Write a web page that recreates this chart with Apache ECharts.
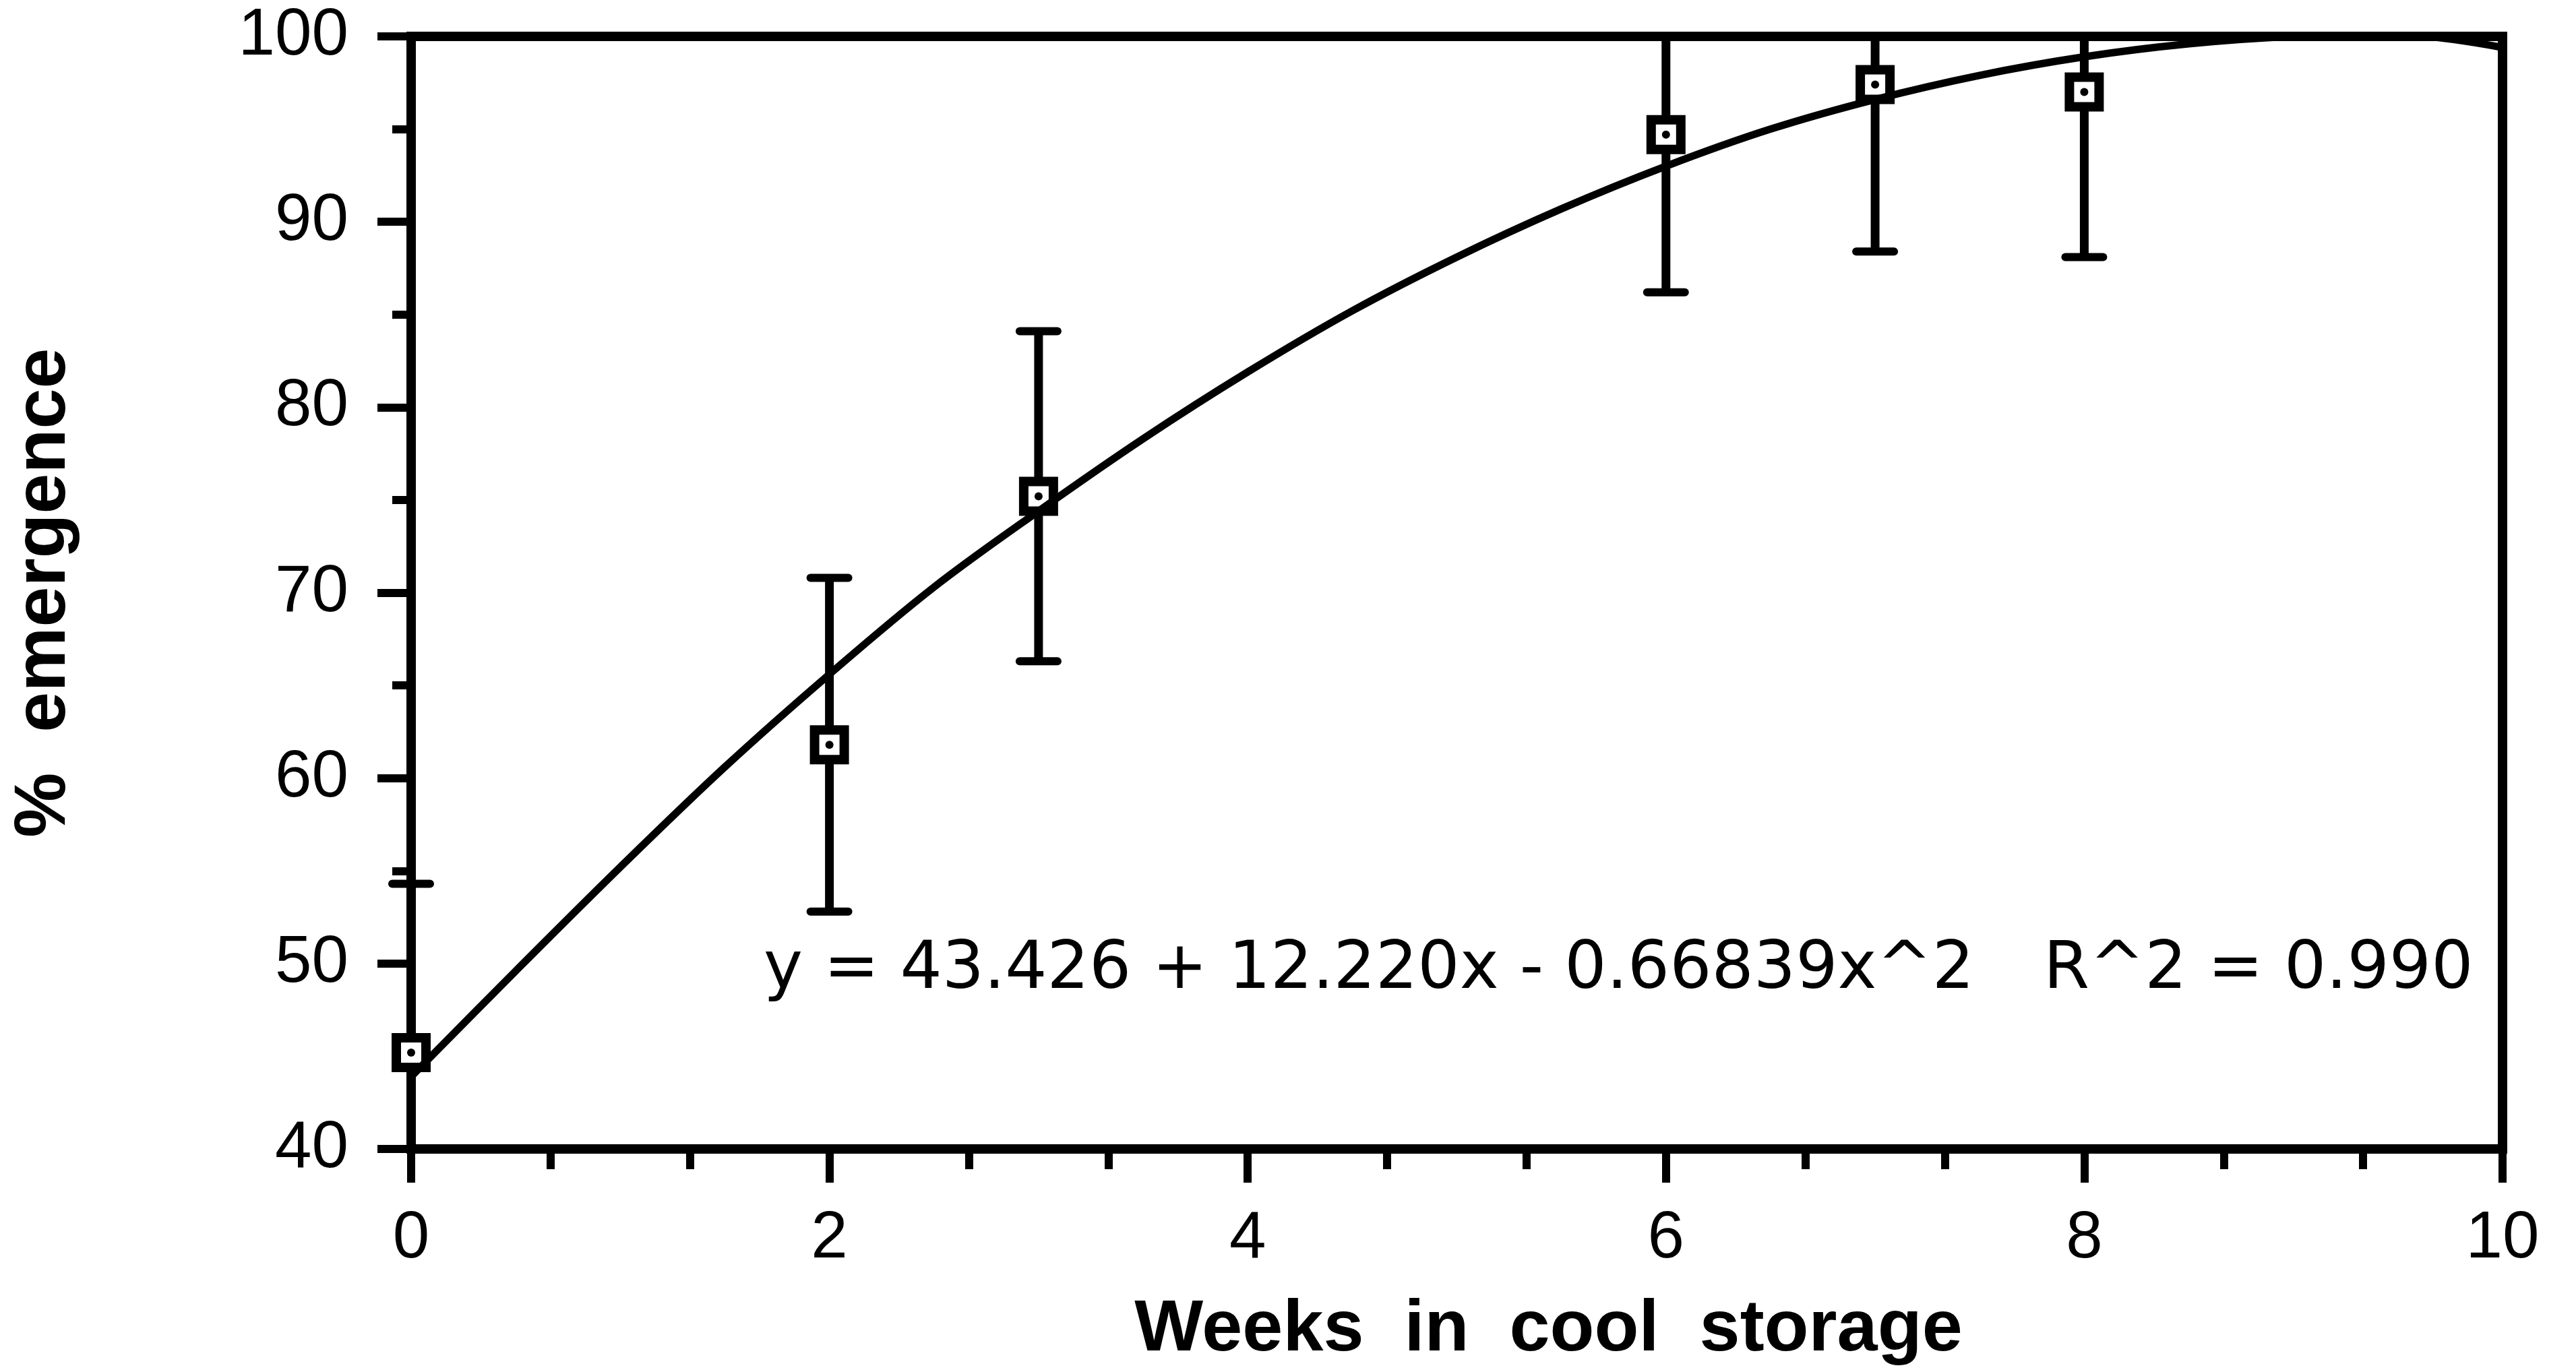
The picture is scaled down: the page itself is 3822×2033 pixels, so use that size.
<!DOCTYPE html>
<html>
<head>
<meta charset="utf-8">
<script src="https://cdn.jsdelivr.net/npm/echarts@6/dist/echarts.min.js"></script>
<style>
  html, body { margin: 0; padding: 0; background: #ffffff; }
  #chart { width: 3822px; height: 2033px; }
</style>
</head>
<body>
<div id="chart"></div>
<script>
// Observed mean emergence (%) after each storage period, with error half-widths
const weeks = [0, 2, 3, 6, 7, 8];
const emergence = [45.2, 61.8, 75.2, 94.7, 97.4, 97.0];
const errorHalf = [9.1, 9.0, 8.9, 8.5, 9.0, 8.9];

// Fitted quadratic curve, sampled along the x range
const fitWeeks = [0, 0.5, 1, 1.5, 2, 2.5, 3, 3.5, 4, 4.5, 5, 5.5, 6, 6.5, 7, 7.5, 8, 8.5, 9, 9.5, 10];
const fitEmergence = [43.9, 49.6, 55.2, 60.6, 65.6, 70.3, 74.4, 78.3, 81.9, 85.2, 88.1, 90.7, 93.0, 95.0, 96.6, 97.9, 98.9, 99.6, 100.0, 100.1, 99.4];

// Axis tick labels
const xTickLabels = ['0', '2', '4', '6', '8', '10'];
const yTickLabels = ['40', '50', '60', '70', '80', '90', '100'];

const equationText = 'y = 43.426 + 12.220x - 0.66839x^2';
const rSquaredText = 'R^2 = 0.990';

const X_MIN = 0, X_MAX = 10, Y_MIN = 40, Y_MAX = 100;
const INK = '#000000';
const LABEL_FONT = '"Liberation Sans", Arial, Helvetica, sans-serif';

const chart = echarts.init(document.getElementById('chart'), null, { renderer: 'canvas' });

const option = {
  backgroundColor: '#ffffff',
  animation: false,
  grid: {
    left: 610, right: 109, top: 54, bottom: 327,
    show: true, borderColor: INK, borderWidth: 14, backgroundColor: 'transparent'
  },
  xAxis: {
    type: 'value', min: X_MIN, max: X_MAX, interval: 2,
    name: 'Weeks  in  cool  storage',
    nameLocation: 'middle', nameGap: 215,
    nameTextStyle: { fontFamily: LABEL_FONT, fontWeight: 'bold', fontSize: 108, color: INK, padding: [0, 0, 0, 272] },
    axisLine: { show: true, lineStyle: { color: INK, width: 14 } },
    axisTick: { show: true, length: 50, lineStyle: { color: INK, width: 12 } },
    minorTick: { show: true, splitNumber: 3, length: 30, lineStyle: { color: INK, width: 12 } },
    splitLine: { show: false },
    axisLabel: {
      fontFamily: LABEL_FONT, fontSize: 98, color: INK, margin: 85,
      formatter: v => xTickLabels[Math.round(v / 2)]
    }
  },
  yAxis: {
    type: 'value', min: Y_MIN, max: Y_MAX, interval: 10,
    name: '%  emergence',
    nameLocation: 'middle', nameGap: 490, nameRotate: 90,
    nameTextStyle: { fontFamily: LABEL_FONT, fontWeight: 'bold', fontSize: 108, color: INK },
    axisLine: { show: true, lineStyle: { color: INK, width: 14 } },
    axisTick: { show: true, length: 50, lineStyle: { color: INK, width: 12 } },
    minorTick: { show: true, splitNumber: 2, length: 28, lineStyle: { color: INK, width: 12 } },
    splitLine: { show: false },
    axisLabel: {
      fontFamily: LABEL_FONT, fontSize: 98, color: INK, margin: 93, align: 'right',
      formatter: v => yTickLabels[Math.round((v - Y_MIN) / 10)]
    }
  },
  series: [
    {
      // vertical error bars with end caps, clipped to the plotting range
      type: 'custom',
      z: 2,
      data: weeks.map((w, i) => [w, emergence[i] - errorHalf[i], emergence[i] + errorHalf[i]]),
      renderItem: function (params, api) {
        const x = api.value(0), lo = api.value(1), hi = api.value(2);
        const pLo = api.coord([x, Math.max(lo, Y_MIN)]);
        const pHi = api.coord([x, Math.min(hi, Y_MAX)]);
        const half = 28;
        const children = [{
          type: 'line',
          shape: { x1: pLo[0], y1: pLo[1], x2: pHi[0], y2: pHi[1] },
          style: { stroke: INK, lineWidth: 13 }
        }];
        if (lo >= Y_MIN) {
          children.push({ type: 'line', shape: { x1: pLo[0] - half, y1: pLo[1], x2: pLo[0] + half, y2: pLo[1] },
            style: { stroke: INK, lineWidth: 12, lineCap: 'round' } });
        }
        if (hi <= Y_MAX) {
          children.push({ type: 'line', shape: { x1: pHi[0] - half, y1: pHi[1], x2: pHi[0] + half, y2: pHi[1] },
            style: { stroke: INK, lineWidth: 12, lineCap: 'round' } });
        }
        return { type: 'group', children: children };
      }
    },
    {
      // open square markers
      type: 'scatter',
      z: 3,
      symbol: 'rect',
      symbolSize: 44,
      itemStyle: { color: '#ffffff', borderColor: INK, borderWidth: 14, opacity: 1 },
      data: weeks.map((w, i) => [w, emergence[i]])
    },
    {
      // small centre dot inside each square
      type: 'scatter',
      z: 4,
      symbol: 'circle',
      symbolSize: 12,
      itemStyle: { color: INK, opacity: 1 },
      data: weeks.map((w, i) => [w, emergence[i]])
    },
    {
      // fitted regression curve
      type: 'line',
      z: 5,
      smooth: 0.35,
      showSymbol: false,
      clip: true,
      lineStyle: { color: INK, width: 11 },
      data: fitWeeks.map((w, i) => [w, fitEmergence[i]])
    }
  ],
  graphic: [
    {
      type: 'text', left: 1133, top: 1392, z: 10,
      style: { text: equationText, fill: INK, font: '98px "DejaVu Sans", sans-serif' }
    },
    {
      type: 'text', left: 3032, top: 1392, z: 10,
      style: { text: rSquaredText, fill: INK, font: '98px "DejaVu Sans", sans-serif' }
    }
  ]
};

chart.setOption(option);
</script>
</body>
</html>
